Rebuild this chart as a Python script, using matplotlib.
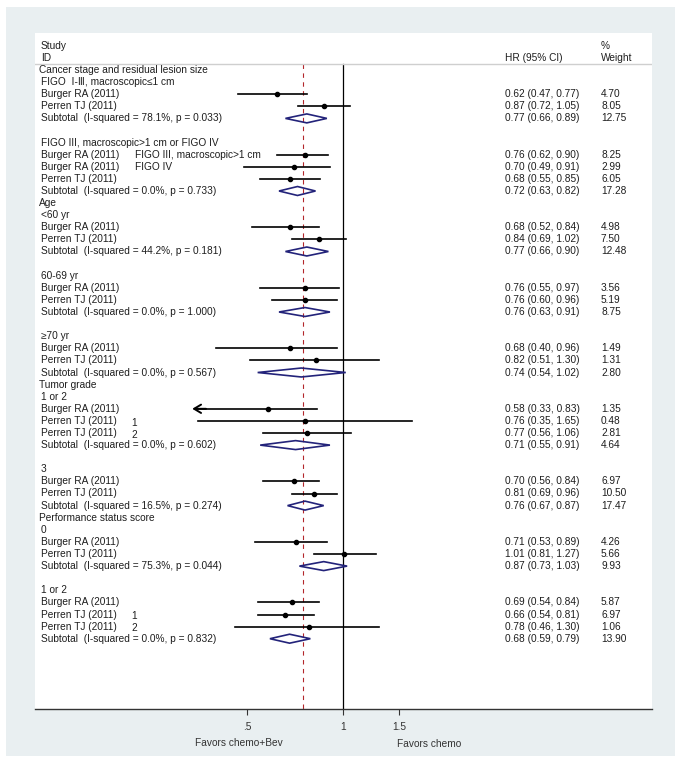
import numpy as np
import matplotlib
matplotlib.use('Agg')
import matplotlib.pyplot as plt
from matplotlib.patches import Rectangle, Polygon

plt.rcParams['font.family'] = ['Liberation Sans', 'DejaVu Sans']

# row labels of the forest plot, top to bottom ('' = empty row)
labels = [
    'Cancer stage and residual lesion size',
    'FIGO  Ⅰ-Ⅲ, macroscopic≤1 cm',
    'Burger RA (2011)', 'Perren TJ (2011)',
    'Subtotal  (I-squared = 78.1%, p = 0.033)',
    '',
    'FIGO III, macroscopic>1 cm or FIGO IV',
    'Burger RA (2011)', 'Burger RA (2011)', 'Perren TJ (2011)',
    'Subtotal  (I-squared = 0.0%, p = 0.733)',
    'Age',
    '<60 yr',
    'Burger RA (2011)', 'Perren TJ (2011)',
    'Subtotal  (I-squared = 44.2%, p = 0.181)',
    '',
    '60-69 yr',
    'Burger RA (2011)', 'Perren TJ (2011)',
    'Subtotal  (I-squared = 0.0%, p = 1.000)',
    '',
    '≥70 yr',
    'Burger RA (2011)', 'Perren TJ (2011)',
    'Subtotal  (I-squared = 0.0%, p = 0.567)',
    'Tumor grade',
    '1 or 2',
    'Burger RA (2011)', 'Perren TJ (2011)', 'Perren TJ (2011)',
    'Subtotal  (I-squared = 0.0%, p = 0.602)',
    '',
    '3',
    'Burger RA (2011)', 'Perren TJ (2011)',
    'Subtotal  (I-squared = 16.5%, p = 0.274)',
    'Performance status score',
    '0',
    'Burger RA (2011)', 'Perren TJ (2011)',
    'Subtotal  (I-squared = 75.3%, p = 0.044)',
    '',
    '1 or 2',
    'Burger RA (2011)', 'Perren TJ (2011)', 'Perren TJ (2011)',
    'Subtotal  (I-squared = 0.0%, p = 0.832)',
]
section_titles = ['Cancer stage and residual lesion size', 'Age',
                  'Tumor grade', 'Performance status score']

# extra text next to some study names
notes = {7: 'FIGO III, macroscopic>1 cm', 8: 'FIGO IV',
         29: '1', 30: '2', 45: '1', 46: '2'}

N = None
hr = [N, N, 0.62, 0.87, 0.77, N, N, 0.76, 0.70, 0.68, 0.72, N, N, 0.68, 0.84, 0.77,
      N, N, 0.76, 0.76, 0.76, N, N, 0.68, 0.82, 0.74, N, N, 0.58, 0.76, 0.77, 0.71,
      N, N, 0.70, 0.81, 0.76, N, N, 0.71, 1.01, 0.87, N, N, 0.69, 0.66, 0.78, 0.68]
lo = [N, N, 0.47, 0.72, 0.66, N, N, 0.62, 0.49, 0.55, 0.63, N, N, 0.52, 0.69, 0.66,
      N, N, 0.55, 0.60, 0.63, N, N, 0.40, 0.51, 0.54, N, N, 0.33, 0.35, 0.56, 0.55,
      N, N, 0.56, 0.69, 0.67, N, N, 0.53, 0.81, 0.73, N, N, 0.54, 0.54, 0.46, 0.59]
hi = [N, N, 0.77, 1.05, 0.89, N, N, 0.90, 0.91, 0.85, 0.82, N, N, 0.84, 1.02, 0.90,
      N, N, 0.97, 0.96, 0.91, N, N, 0.96, 1.30, 1.02, N, N, 0.83, 1.65, 1.06, 0.91,
      N, N, 0.84, 0.96, 0.87, N, N, 0.89, 1.27, 1.03, N, N, 0.84, 0.81, 1.30, 0.79]
weight = [N, N, 4.70, 8.05, 12.75, N, N, 8.25, 2.99, 6.05, 17.28, N, N, 4.98, 7.50, 12.48,
          N, N, 3.56, 5.19, 8.75, N, N, 1.49, 1.31, 2.80, N, N, 1.35, 0.48, 2.81, 4.64,
          N, N, 6.97, 10.50, 17.47, N, N, 4.26, 5.66, 9.93, N, N, 5.87, 6.97, 1.06, 13.90]

overall_hr = 0.75
x_ticks = [0.5, 1, 1.5]
x_ticklabels = ['.5', '1', '1.5']

W, H = 683, 766
BG = '#e9eff1'
TXT = '#1e1e1e'
FS = 7.3

fig = plt.figure(figsize=(W / 100, H / 100), dpi=100)
fig.patch.set_facecolor('white')
bg = Rectangle((6 / W, 1 - 756 / H), (675 - 6) / W, (756 - 7) / H,
               transform=fig.transFigure, facecolor=BG, edgecolor='none', zorder=-10)
fig.patches.append(bg)

# white plot panel in pixel coords
px_l, px_r, px_t, px_b = 35, 652, 33, 709
ax = fig.add_axes([px_l / W, 1 - px_b / H, (px_r - px_l) / W, (px_b - px_t) / H])
ax.set_zorder(1)
ax.set_facecolor('white')
ax.set_xscale('log')
# 1 sits at pixel 343, 138.5 px per unit of ln(HR)
ax.set_xlim(np.exp((px_l - 343) / 138.5), np.exp((px_r - 343) / 138.5))
row0, pitch = 70, 12.1
ax.set_ylim((px_b - row0) / pitch, (px_t - row0) / pitch)

for s in ['top', 'right', 'left']:
    ax.spines[s].set_visible(False)
ax.spines['bottom'].set_color('#333333')
ax.spines['bottom'].set_linewidth(1.0)
ax.set_yticks([])
ax.set_xticks(x_ticks)
ax.set_xticklabels(x_ticklabels)
ax.xaxis.set_minor_locator(matplotlib.ticker.NullLocator())
ax.tick_params(axis='x', length=4, width=0.8, color='#333333', pad=5,
               labelsize=FS, labelcolor='#333333')

ybot = (px_b - row0) / pitch
ax.plot([1, 1], [-0.5, ybot], color='black', lw=0.9, zorder=2)
ax.plot([overall_hr, overall_hr], [-0.5, ybot], color='#b3262b', lw=0.8,
        dashes=(4, 4), zorder=2)
ax.axhline(-0.5, color='#cfcfcf', lw=1.0)

tx = ax.get_yaxis_transform()  # x in axes fraction, y in data
def fx(p):
    return (p - px_l) / (px_r - px_l)

# header
ax.text(fx(41), -1.98, 'Study', transform=tx, fontsize=FS, color=TXT, va='center')
ax.text(fx(41), -0.99, 'ID', transform=tx, fontsize=FS, color=TXT, va='center')
ax.text(fx(505), -0.99, 'HR (95% CI)', transform=tx, fontsize=FS, color=TXT, va='center')
ax.text(fx(601), -1.98, '%', transform=tx, fontsize=FS, color=TXT, va='center')
ax.text(fx(601), -0.99, 'Weight', transform=tx, fontsize=FS, color=TXT, va='center')

for i, lab in enumerate(labels):
    if lab:
        x0 = 39 if lab in section_titles else 41
        ax.text(fx(x0), i, lab, transform=tx, fontsize=FS, color=TXT, va='center')
    if i in notes:
        dy = 0.15 if len(notes[i]) == 1 else 0
        ax.text(fx(131 if len(notes[i]) == 1 else 135), i + dy, notes[i], transform=tx,
                fontsize=FS, color=TXT, va='center')
    if hr[i] is None:
        continue
    ax.text(fx(505), i, f'{hr[i]:.2f} ({lo[i]:.2f}, {hi[i]:.2f})', transform=tx,
            fontsize=FS, color=TXT, va='center')
    ax.text(fx(601), i, f'{weight[i]:.2f}', transform=tx, fontsize=FS, color=TXT, va='center')
    if lab.startswith('Subtotal'):
        d = Polygon([[lo[i], i], [hr[i], i - 0.37], [hi[i], i], [hr[i], i + 0.37]],
                    closed=True, fill=False, edgecolor='#23237a', lw=1.2, zorder=3)
        ax.add_patch(d)
    else:
        if lo[i] < 0.35:
            ax.plot([lo[i] * 1.04, hi[i]], [i, i], color='black', lw=1.2, zorder=3)
            ax.annotate('', xy=(lo[i], i), xytext=(lo[i] * 1.15, i),
                        arrowprops=dict(arrowstyle='->,head_length=0.5,head_width=0.3',
                                        color='black', lw=1.4), zorder=3)
        else:
            ax.plot([lo[i], hi[i]], [i, i], color='black', lw=1.2, zorder=3)
        ax.plot(hr[i], i, 'o', color='black', markersize=3, zorder=4)

fig.text(239 / W, 1 - 743 / H, 'Favors chemo+Bev', fontsize=FS, color='#333333',
         ha='center', va='center')
fig.text(429 / W, 1 - 744 / H, 'Favors chemo', fontsize=FS, color='#333333',
         ha='center', va='center')

fig.savefig('out.png', dpi=100, facecolor=fig.get_facecolor())
